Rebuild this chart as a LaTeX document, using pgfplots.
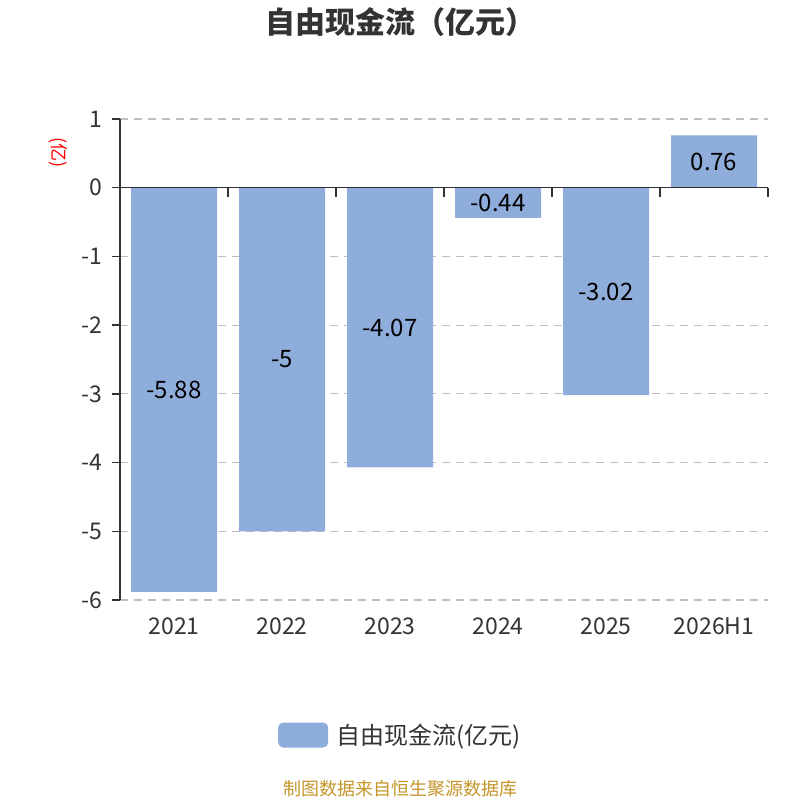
\documentclass[border=0pt]{standalone}
\usepackage{pgfplots}
\pgfplotsset{compat=1.18}
\usepackage{fontspec}
\setmainfont{Noto Sans CJK SC}
\definecolor{barc}{HTML}{8EADDB}
\definecolor{txt}{HTML}{333333}
\definecolor{src}{HTML}{C4952A}
\begin{document}
\begin{tikzpicture}[x=1pt,y=1pt]
\useasboundingbox (0,0) rectangle (800,800);
\begin{axis}[
  at={(120pt,200pt)}, anchor=south west,
  scale only axis, width=648pt, height=481pt,
  xmin=-0.5, xmax=5.5, ymin=-6, ymax=1,
  axis x line*=bottom,
  x axis line style={draw=none},
  axis y line*=left,
  y axis line style={draw=txt, line width=1.5pt},
  xtick={0,1,2,3,4,5},
  xticklabels={2021,2022,2023,2024,2025,2026H1},
  xtick style={draw=none},
  xticklabel style={font=\fontsize{23}{23}\selectfont, text=txt, anchor=center, yshift=-18pt},
  ytick={-6,-5,-4,-3,-2,-1,0,1},
  yticklabels={-6,-5,-4,-3,-2,-1,0,1},
  yticklabel style={font=\fontsize{23}{23}\selectfont, text=txt, xshift=-6pt},
  major tick length=8pt,
  ytick style={draw=txt, line width=1.5pt},
  tick align=outside,
  ymajorgrids,
  grid style={draw=black!25, line width=1.2pt, dash pattern=on 8pt off 6pt},
  legend style={at={(0.2438,-0.2807)}, anchor=west, draw=none, fill=none,
    font=\fontsize{24}{24}\selectfont, text=txt, inner sep=0pt,
    legend cell align=left},
  legend image code/.code={\fill[barc, rounded corners=5pt] (0pt,-12.5pt) rectangle (50pt,12.5pt);},
  clip=false,
]
\addplot[ybar, bar width=86pt, fill=barc, draw=none] coordinates {
  (0,-5.88) (1,-5) (2,-4.07) (3,-0.44) (4,-3.02) (5,0.76)};
\addlegendentry{\hspace{6pt}自由现金流(亿元)}
\addplot[draw=none, mark=none, forget plot,
  nodes near coords, point meta=explicit symbolic,
  every node near coord/.append style={anchor=center, font=\fontsize{24}{24}\selectfont, text=black}]
  table[meta=lab, y expr=\thisrow{y}/2] {
  x y lab
  0 -5.88 -5.88
  1 -5 -5
  2 -4.07 -4.07
  3 -0.44 -0.44
  4 -3.02 -3.02
  5 0.76 0.76
};
\draw[txt, line width=1.5pt] (axis cs:-0.5,0) -- (axis cs:5.5,0);
\pgfplotsinvokeforeach{0.5,1.5,2.5,3.5,4.5,5.5}{
  \draw[txt, line width=1.5pt] (axis cs:#1,0) -- ([yshift=-9pt]axis cs:#1,0);
}
\end{axis}
\node[rotate=-90, text=red, font=\fontsize{18}{18}\selectfont] at (58,647) {(亿)};
\node[font=\bfseries\fontsize{30}{30}\selectfont, text=txt] at (400,778) {自由现金流（亿元）};
\node[font=\fontsize{18}{18}\selectfont, text=src] at (400,11) {制图数据来自恒生聚源数据库};
\end{tikzpicture}
\end{document}
